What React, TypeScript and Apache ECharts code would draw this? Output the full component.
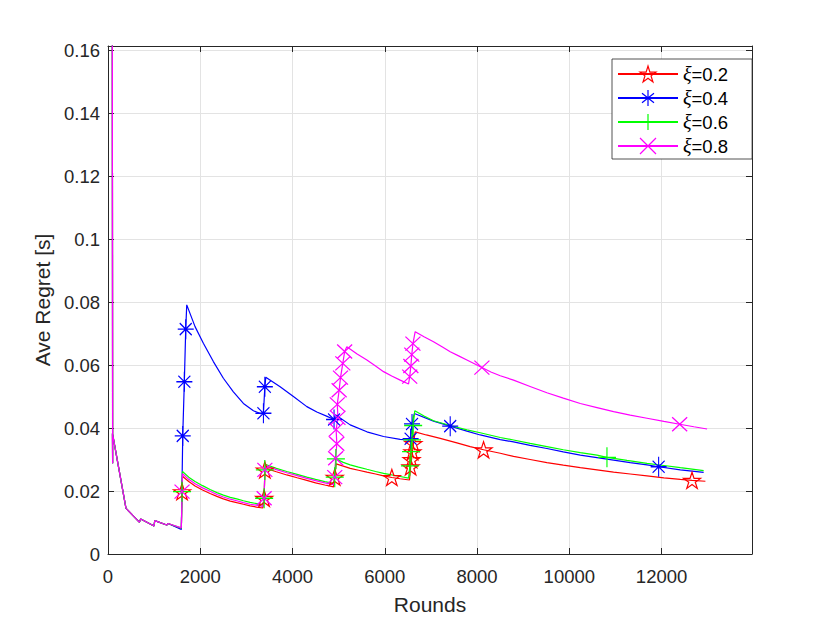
import React, { useEffect, useRef } from "react";
import * as echarts from "echarts";

// ---- data: [rounds, regret] ; third element 1 marks a plotted marker ----
const seriesNames = ["ξ=0.2", "ξ=0.4", "ξ=0.6", "ξ=0.8"];
const xTicksMax = 13960;
const yMax = 0.1613;

const earlyPts: number[][] = [
  [93, 0.2], [100, 0.0288], [97, 0.0383], [390, 0.0145], [679, 0.0101], [709, 0.0111],
  [998, 0.0089], [1013, 0.0106], [1273, 0.0092], [1302, 0.0097],
];

const redPts: number[][] = [
  [1590, 0.0080], [1605, 0.0198, 1], [1615, 0.0247], [1750, 0.0230], [1887, 0.0216], [2050, 0.0203],
  [2212, 0.0192], [2360, 0.0183], [2501, 0.0175], [2650, 0.0168], [2791, 0.0163], [2935, 0.0158],
  [3080, 0.0153], [3220, 0.0149], [3356, 0.0146], [3385, 0.0177, 1], [3400, 0.0267, 1], [3420, 0.0272],
  [3650, 0.0261], [3876, 0.0251], [4100, 0.0242], [4310, 0.0234], [4500, 0.0226], [4700, 0.0219],
  [4888, 0.0213], [4915, 0.0244, 1], [4945, 0.0286], [5100, 0.0279], [5250, 0.0272], [5430, 0.0266],
  [5612, 0.0260], [5800, 0.0254], [5973, 0.0248], [6153, 0.0243, 1], [6334, 0.0239], [6535, 0.0235],
  [6560, 0.0277, 1], [6580, 0.0300, 1], [6600, 0.0325, 1], [6620, 0.0351, 1], [6659, 0.0388],
  [6900, 0.0378], [7201, 0.0367], [7563, 0.0353], [7850, 0.0341], [8141, 0.0331, 1], [8503, 0.0320],
  [8791, 0.0310], [9150, 0.0300], [9514, 0.0290], [9870, 0.0282], [10238, 0.0274], [10600, 0.0267],
  [10960, 0.0260], [11320, 0.0254], [11684, 0.0248], [12050, 0.0242], [12407, 0.0237],
  [12660, 0.0234, 1], [12950, 0.0231],
];

const bluePts: number[][] = [
  [1590, 0.0078], [1620, 0.0375, 1], [1655, 0.0547, 1], [1685, 0.0714, 1], [1707, 0.0791],
  [1887, 0.0722], [2067, 0.0669], [2284, 0.0611], [2501, 0.0558], [2718, 0.0515], [2935, 0.0478],
  [3152, 0.0455], [3297, 0.0446], [3369, 0.0447, 1], [3400, 0.0531, 1], [3420, 0.0561], [3731, 0.0531],
  [4019, 0.0500], [4310, 0.0468], [4527, 0.0451], [4750, 0.0437], [4900, 0.0427, 1], [4930, 0.0442],
  [5250, 0.0410], [5612, 0.0388], [5973, 0.0373], [6334, 0.0364], [6515, 0.0362], [6560, 0.0366, 1],
  [6590, 0.0413, 1], [6640, 0.0446], [7056, 0.0422], [7418, 0.0406, 1], [7780, 0.0390], [8069, 0.0378],
  [8503, 0.0363], [8791, 0.0356], [9150, 0.0345], [9514, 0.0335], [9870, 0.0324], [10238, 0.0314],
  [10600, 0.0306], [10960, 0.0298], [11320, 0.0290], [11684, 0.0283], [11936, 0.0277, 1],
  [12407, 0.0267], [12912, 0.0259],
];

const greenPts: number[][] = [
  [1590, 0.0082], [1605, 0.0198, 1], [1615, 0.0262], [1750, 0.0244], [1887, 0.0230], [2050, 0.0217],
  [2212, 0.0205], [2360, 0.0195], [2501, 0.0187], [2650, 0.0180], [2791, 0.0175], [2935, 0.0169],
  [3080, 0.0164], [3220, 0.0160], [3356, 0.0156], [3385, 0.0177, 1], [3400, 0.0267, 1], [3420, 0.0284],
  [3650, 0.0272], [3876, 0.0262], [4100, 0.0253], [4310, 0.0244], [4500, 0.0237], [4700, 0.0230],
  [4888, 0.0224], [4915, 0.0244, 1], [4940, 0.0302, 1], [5100, 0.0291], [5250, 0.0283], [5430, 0.0276],
  [5612, 0.0269], [5800, 0.0262], [5973, 0.0256], [6150, 0.0251], [6334, 0.0246], [6515, 0.0241],
  [6545, 0.0280, 1], [6570, 0.0325, 1], [6590, 0.0362, 1], [6615, 0.0408, 1], [6650, 0.0455],
  [6850, 0.0438], [7056, 0.0423], [7418, 0.0408], [7780, 0.0394], [8069, 0.0385], [8503, 0.0370],
  [8791, 0.0362], [9150, 0.0351], [9514, 0.0341], [9870, 0.0331], [10238, 0.0322], [10600, 0.0314],
  [10816, 0.0307, 1], [11250, 0.0297], [11684, 0.0288], [12050, 0.0281], [12407, 0.0274], [12912, 0.0265],
];

const magentaPts: number[][] = [
  [1590, 0.0083], [1605, 0.0198, 1], [1615, 0.0255], [1750, 0.0237], [1887, 0.0223], [2050, 0.0210],
  [2212, 0.0199], [2360, 0.0189], [2501, 0.0181], [2650, 0.0174], [2791, 0.0169], [2935, 0.0163],
  [3080, 0.0158], [3220, 0.0155], [3356, 0.0151], [3385, 0.0177, 1], [3400, 0.0267, 1], [3420, 0.0280],
  [3650, 0.0268], [3876, 0.0258], [4100, 0.0249], [4310, 0.0240], [4500, 0.0233], [4700, 0.0226],
  [4888, 0.0220], [4915, 0.0244, 1], [4935, 0.0304, 1], [4960, 0.0350, 1], [4945, 0.0395, 1],
  [4985, 0.0432, 1], [4970, 0.0475, 1], [5010, 0.0520, 1], [5040, 0.0560, 1], [5090, 0.0605, 1],
  [5130, 0.0643, 1], [5177, 0.0658], [5400, 0.0635], [5612, 0.0616], [5800, 0.0597], [5973, 0.0579],
  [6150, 0.0565], [6334, 0.0552], [6515, 0.0540], [6540, 0.0563, 1], [6565, 0.0597, 1],
  [6585, 0.0633, 1], [6610, 0.0668, 1], [6659, 0.0706], [6850, 0.0690], [7056, 0.0674], [7250, 0.0657],
  [7418, 0.0642], [7600, 0.0629], [7780, 0.0616], [8105, 0.0592, 1], [8300, 0.0578], [8503, 0.0566],
  [8791, 0.0552], [9150, 0.0532], [9514, 0.0512], [9870, 0.0495], [10238, 0.0478], [10600, 0.0465],
  [10960, 0.0452], [11320, 0.0441], [11684, 0.0431], [12050, 0.0421], [12392, 0.0412, 1],
  [12700, 0.0404], [12986, 0.0397],
];

// ---- marker shapes ----
const STAR =
  "path://M0,-8L1.8,-2.48L7.61,-2.47L2.91,0.95L4.7,6.47L0,3.06L-4.7,6.47L-2.91,0.95L-7.61,-2.47L-1.8,-2.48Z";
const ASTERISK = "path://M-8,0L8,0M0,-10L0,10M-6,-6L6,6M-6,6L6,-6";
const PLUS = "path://M-9,0L9,0M0,-10L0,10";
const CROSS = "path://M-7.5,-7L7.5,7M-7.5,7L7.5,-7";

const FONT = "Liberation Sans";
const AX = "#262626";

function toData(pts: number[][]) {
  return pts.map((p) =>
    p[2] ? { value: [p[0], p[1]] } : { value: [p[0], p[1]], symbol: "none" }
  );
}

function mkSeries(name: string, pts: number[][], color: string, symbol: string, size: number[], keep: boolean) {
  return {
    name,
    type: "line",
    data: toData([...earlyPts, ...pts]),
    symbol,
    symbolSize: size,
    symbolKeepAspect: keep,
    showSymbol: true,
    showAllSymbol: true,
    clip: true,
    silent: true,
    lineStyle: { color, width: 1.2 },
    itemStyle: { color: "rgba(0,0,0,0)", borderColor: color, borderWidth: 1.2 },
    emphasis: { disabled: true },
  };
}

export default function App() {
  const ref = useRef<HTMLDivElement>(null);
  useEffect(() => {
    if (!ref.current) return;
    const chart = echarts.init(ref.current, undefined, { renderer: "svg" });
    const axisCommon = {
      type: "value" as const,
      axisLine: { show: true, onZero: false, lineStyle: { color: AX, width: 1 } },
      axisTick: { show: true, inside: true, length: 6, lineStyle: { color: AX, width: 1 } },
    };
    chart.setOption({
      animation: false,
      backgroundColor: "#ffffff",
      grid: { left: 108, right: 78, top: 46, bottom: 69, containLabel: false },
      xAxis: [
        {
          ...axisCommon,
          position: "bottom",
          min: 0,
          max: xTicksMax,
          interval: 2000,
          name: "Rounds",
          nameLocation: "middle",
          nameGap: 40,
          nameTextStyle: { fontFamily: FONT, fontSize: 21, color: AX },
          axisLabel: {
            fontFamily: FONT,
            fontSize: 18.5,
            color: AX,
            margin: 13,
            showMaxLabel: false,
            formatter: (v: number) => String(v),
          },
          splitLine: { show: true, lineStyle: { color: "#e3e3e3", width: 1 } },
        },
        {
          ...axisCommon,
          position: "top",
          min: 0,
          max: xTicksMax,
          interval: 2000,
          axisLabel: { show: false },
          splitLine: { show: false },
        },
      ],
      yAxis: [
        {
          ...axisCommon,
          position: "left",
          min: 0,
          max: yMax,
          interval: 0.02,
          name: "Ave Regret [s]",
          nameLocation: "middle",
          nameGap: 53,
          nameTextStyle: { fontFamily: FONT, fontSize: 21, color: AX },
          axisLabel: {
            fontFamily: FONT,
            fontSize: 18.5,
            color: AX,
            margin: 8,
            showMaxLabel: false,
            formatter: (v: number) => String(Math.round(v * 100) / 100),
          },
          splitLine: { show: true, lineStyle: { color: "#e3e3e3", width: 1 } },
        },
        {
          ...axisCommon,
          position: "right",
          min: 0,
          max: yMax,
          interval: 0.02,
          axisLabel: { show: false },
          splitLine: { show: false },
        },
      ],
      legend: {
        orient: "vertical",
        left: 612,
        top: 59,
        itemWidth: 60,
        itemHeight: 20,
        itemGap: 4,
        padding: [5, 24, 3, 5],
        backgroundColor: "#ffffff",
        borderColor: AX,
        borderWidth: 0.8,
        borderRadius: 0,
        selectedMode: false,
        data: seriesNames,
        itemStyle: { borderWidth: 1.2 },
        formatter: (n: string) => "{g|ξ}" + n.slice(1),
        textStyle: {
          fontFamily: FONT,
          fontSize: 18.5,
          color: "#000",
          rich: { g: { fontFamily: "Liberation Serif", fontStyle: "italic", fontSize: 20, color: "#000" } },
        },
      },
      series: [
        mkSeries(seriesNames[0], redPts, "#ff0000", STAR, [17, 17], true),
        mkSeries(seriesNames[1], bluePts, "#0000ff", ASTERISK, [16, 20], false),
        mkSeries(seriesNames[2], greenPts, "#00ff00", PLUS, [18, 20], false),
        mkSeries(seriesNames[3], magentaPts, "#ff00ff", CROSS, [15, 14], false),
      ],
    });
    return () => chart.dispose();
  }, []);
  return (
    <div
      ref={ref}
      style={{ position: "absolute", left: 0, top: 0, width: 830, height: 623, background: "#fff" }}
    />
  );
}
